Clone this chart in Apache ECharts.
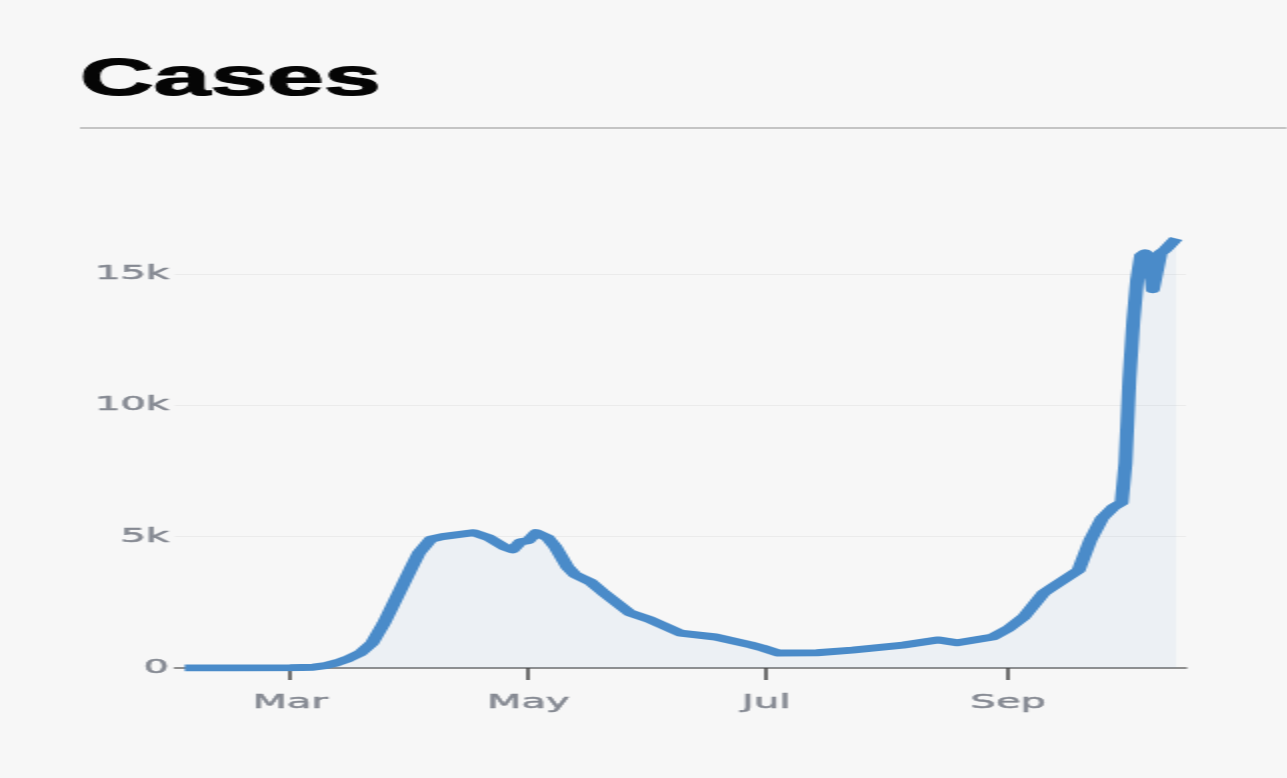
<!DOCTYPE html>
<html>
<head>
<meta charset="utf-8">
<script src="https://cdn.jsdelivr.net/npm/echarts@6/dist/echarts.min.js"></script>
<style>
  html, body { margin: 0; padding: 0; background: #f7f7f7; overflow: hidden; }
  #chart { width: 643.5px; height: 778px; transform: scaleX(2); transform-origin: 0 0; }
</style>
</head>
<body>
<div id="chart"></div>
<script>
// ---- data ----
const dates = ['2020-02-03','2020-02-15','2020-03-01','2020-03-07','2020-03-10','2020-03-13','2020-03-16','2020-03-19','2020-03-22','2020-03-25','2020-03-27','2020-03-30','2020-04-01','2020-04-03','2020-04-06','2020-04-09','2020-04-13','2020-04-17','2020-04-21','2020-04-25','2020-04-27','2020-04-29','2020-05-01','2020-05-03','2020-05-06','2020-05-08','2020-05-11','2020-05-13','2020-05-17','2020-05-20','2020-05-27','2020-06-01','2020-06-09','2020-06-18','2020-06-27','2020-06-30','2020-07-04','2020-07-14','2020-07-23','2020-08-05','2020-08-14','2020-08-19','2020-08-28','2020-09-01','2020-09-05','2020-09-10','2020-09-12','2020-09-19','2020-09-22','2020-09-25','2020-09-28','2020-09-30','2020-10-01','2020-10-02','2020-10-03','2020-10-04','2020-10-05','2020-10-06','2020-10-07','2020-10-08','2020-10-09','2020-10-10','2020-10-11','2020-10-12','2020-10-13','2020-10-14'];
const cases = [0,2,5,30,90,200,360,570,950,1700,2300,3200,3800,4380,4900,5000,5080,5150,4950,4600,4500,4800,4850,5150,4950,4600,3850,3550,3270,2900,2100,1850,1330,1180,880,760,570,580,680,870,1070,960,1180,1500,1950,2850,3050,3730,4870,5700,6130,6300,7800,11000,13200,14800,15700,15800,15700,14400,14400,15800,15900,16050,16200,16350];
const tickDates = ['2020-03-01','2020-05-01','2020-07-01','2020-09-01'];
const tickLabels = ['Mar','May','Jul','Sep'];
const yTicks = [0, 5000, 10000, 15000];
const yTickLabels = ['0','5k','10k','15k'];
const titleText = 'Cases';

const ts = s => Date.UTC(+s.slice(0,4), +s.slice(5,7) - 1, +s.slice(8,10), s.length > 10 ? +s.slice(11,13) : 0);
const tickTs = tickDates.map(ts);

const labelStyle = { fontFamily: 'DejaVu Sans', fontSize: 20, color: '#858992',
                     textBorderColor: '#858992', textBorderWidth: 0.5 };

const chart = echarts.init(document.getElementById('chart'), null, { renderer: 'canvas' });
chart.setOption({
  backgroundColor: '#f7f7f7',
  animation: false,
  title: {
    text: titleText,
    left: 40, top: 55, padding: 0,
    textStyle: { fontFamily: 'Liberation Sans', fontWeight: 'bold', fontSize: 51, color: '#050505',
                 textBorderColor: '#050505', textBorderWidth: 1.2 }
  },
  graphic: [{
    type: 'line', silent: true,
    shape: { x1: 40, y1: 128, x2: 643.5, y2: 128 },
    style: { stroke: '#b3b3b3', lineWidth: 1.5 }
  }],
  grid: { left: 87.5, right: 51, top: 234.5, bottom: 110, containLabel: false },
  xAxis: {
    type: 'value',
    min: ts('2020-01-31 12'),
    max: ts('2020-10-16 12'),
    axisLine: { show: true, lineStyle: { color: '#6e6e6e', width: 1.6 } },
    axisTick: { show: true, customValues: tickTs, length: 12, lineStyle: { color: '#444', width: 1.5 } },
    axisLabel: Object.assign({
      customValues: tickTs,
      formatter: v => { const i = tickTs.indexOf(v); return i >= 0 ? tickLabels[i] : ''; },
      margin: 25
    }, labelStyle),
    splitLine: { show: false }
  },
  yAxis: {
    type: 'value', min: 0, max: 16500, interval: 5000,
    axisLine: { show: false }, axisTick: { show: false },
    axisLabel: Object.assign({
      showMaxLabel: false,
      formatter: v => { const i = yTicks.indexOf(v); return i >= 0 ? yTickLabels[i] : ''; },
      margin: 3
    }, labelStyle),
    splitLine: { show: true, showMinLine: false, showMaxLine: false, lineStyle: { color: '#ebebeb', width: 1 } }
  },
  series: [{
    type: 'line',
    data: dates.map((d, i) => [ts(d), cases[i]]),
    showSymbol: false,
    lineStyle: { color: '#4a8bc9', width: 7, join: 'round' },
    itemStyle: { color: '#4a8bc9' },
    areaStyle: { color: 'rgba(74,139,201,0.09)' }
  }]
});
</script>
</body>
</html>
